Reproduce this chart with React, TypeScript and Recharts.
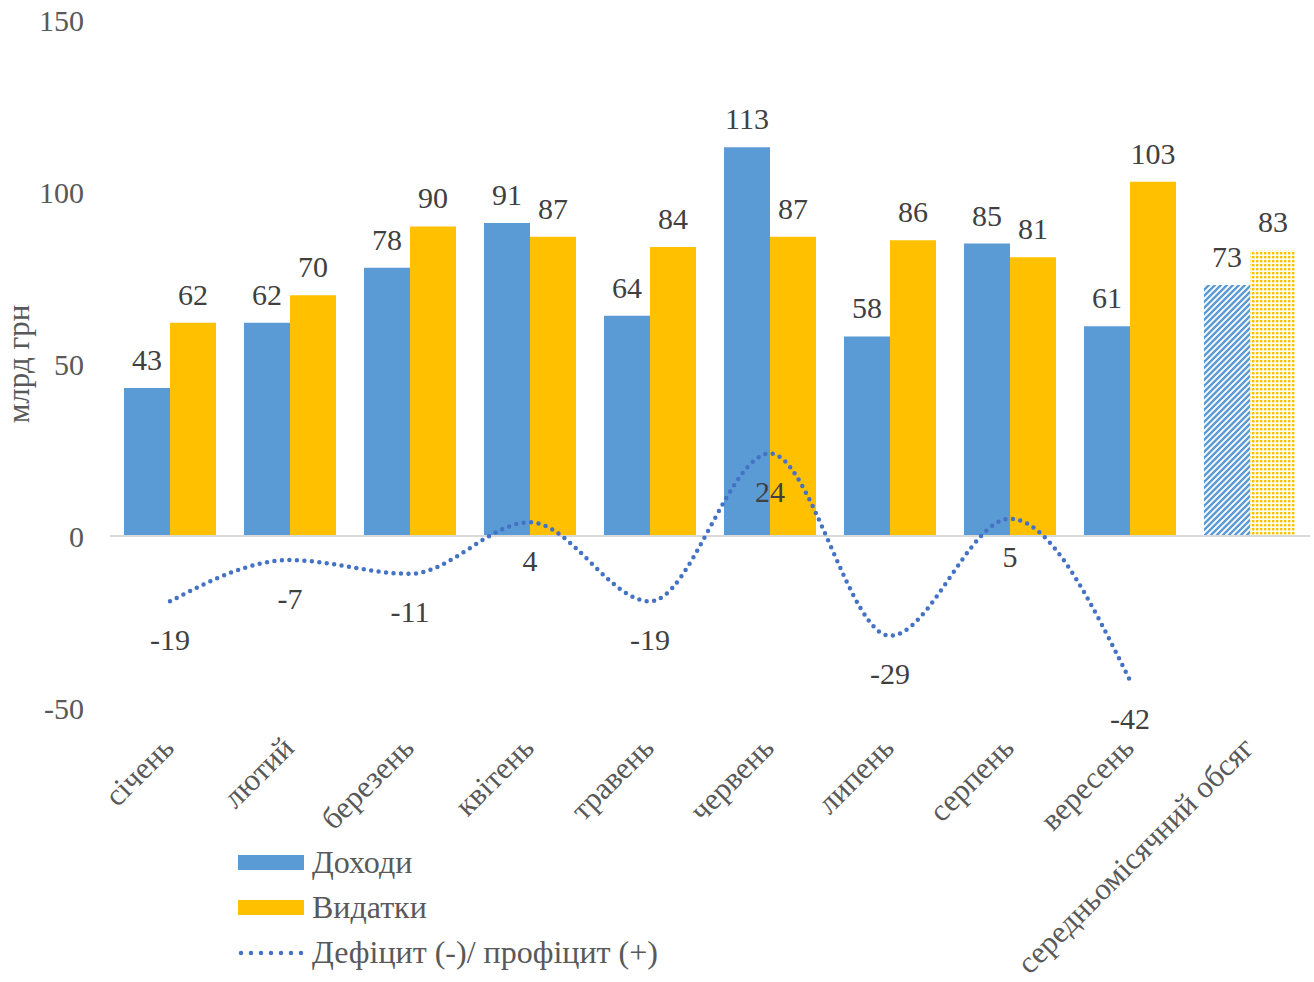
import {
  ComposedChart,
  Bar,
  Line,
  XAxis,
  YAxis,
  Cell,
  LabelList,
  Legend,
  ReferenceLine
} from 'recharts'

const months = [
  'січень',
  'лютий',
  'березень',
  'квітень',
  'травень',
  'червень',
  'липень',
  'серпень',
  'вересень',
  'середньомісячний обсяг'
]
const income = [43, 62, 78, 91, 64, 113, 58, 85, 61, 73]
const expenses = [62, 70, 90, 87, 84, 87, 86, 81, 103, 83]
const balance: (number | null)[] = [-19, -7, -11, 4, -19, 24, -29, 5, -42, null]
const yTicks = [-50, 0, 50, 100, 150]

const data = months.map((m, i) => ({
  month: m,
  income: income[i],
  expenses: expenses[i],
  balance: balance[i]
}))

const FONT = '"Liberation Serif", "Times New Roman", serif'
const BLUE = '#5B9BD5'
const YELLOW = '#FFC000'
const LINE = '#4472C4'

function XTick(props: any) {
  const { x, y, payload } = props
  return (
    <g transform={`translate(${x - 2},${y + 26})`}>
      <text
        transform="rotate(-45)"
        textAnchor="end"
        dy="0.35em"
        fontFamily={FONT}
        fontSize={31}
        fill="#595959"
      >
        {payload.value}
      </text>
    </g>
  )
}

function BalanceLabel(props: any) {
  const { x, y, value } = props
  if (value === null || value === undefined) return null
  return (
    <text
      x={x}
      y={y + 38}
      dy="0.35em"
      textAnchor="middle"
      fontFamily={FONT}
      fontSize={30}
      fill="#404040"
    >
      {value}
    </text>
  )
}

function LegendBox() {
  const row = { display: 'flex', alignItems: 'center', height: 45 }
  const text = { fontFamily: FONT, fontSize: 32, color: '#595959', marginLeft: 8 }
  return (
    <div>
      <div style={row}>
        <div style={{ width: 66, height: 15, background: BLUE }} />
        <span style={text}>Доходи</span>
      </div>
      <div style={row}>
        <div style={{ width: 66, height: 15, background: YELLOW }} />
        <span style={text}>Видатки</span>
      </div>
      <div style={row}>
        <svg width={66} height={10}>
          <line
            x1={3}
            y1={5}
            x2={64}
            y2={5}
            stroke={LINE}
            strokeWidth={4.5}
            strokeLinecap="round"
            strokeDasharray="0 10"
          />
        </svg>
        <span style={text}>Дефіцит (-)/ профіцит (+)</span>
      </div>
    </div>
  )
}

export default function App() {
  const last = months.length - 1
  return (
    <div style={{ position: 'absolute', left: 0, top: 0, background: '#fff' }}>
      <ComposedChart
        width={1314}
        height={982}
        data={data}
        margin={{ top: 20, right: 4, left: 0, bottom: 0 }}
        barSize={46}
        barGap={0}
      >
        <defs>
          <pattern id="blueHatch" patternUnits="userSpaceOnUse" width={6} height={6}>
            <rect width={6} height={6} fill="#fff" />
            <path
              d="M0,6 L6,0 M-1.5,1.5 L1.5,-1.5 M4.5,7.5 L7.5,4.5"
              stroke={BLUE}
              strokeWidth={2.4}
            />
          </pattern>
          <pattern id="yellowDots" patternUnits="userSpaceOnUse" width={4} height={4}>
            <rect width={4} height={4} fill="#fff" />
            <rect x={0} y={0} width={2.4} height={2.4} fill={YELLOW} />
          </pattern>
        </defs>
        <XAxis
          dataKey="month"
          height={274}
          axisLine={false}
          tickLine={false}
          interval={0}
          tick={<XTick />}
        />
        <YAxis
          domain={[-50, 150]}
          ticks={yTicks}
          width={110}
          axisLine={false}
          tickLine={false}
          tickSize={0}
          tickMargin={26}
          tick={{ fontFamily: FONT, fontSize: 30, fill: '#595959' }}
          label={{
            content: (p: any) => {
              const vb = p.viewBox
              const cx = vb.x + 22
              const cy = vb.y + vb.height / 2
              return (
                <text
                  x={cx}
                  y={cy}
                  transform={`rotate(-90 ${cx} ${cy})`}
                  textAnchor="middle"
                  dominantBaseline="middle"
                  fontFamily={FONT}
                  fontSize={31}
                  fill="#595959"
                >
                  млрд грн
                </text>
              )
            }
          }}
        />
        <ReferenceLine y={0} stroke="#D9D9D9" strokeWidth={2} />
        <Bar dataKey="income" name="Доходи" fill={BLUE} isAnimationActive={false}>
          {data.map((d, i) => (
            <Cell key={d.month} fill={i === last ? 'url(#blueHatch)' : BLUE} />
          ))}
          <LabelList
            dataKey="income"
            position="top"
            offset={18}
            fontFamily={FONT}
            fontSize={30}
            fill="#404040"
          />
        </Bar>
        <Bar dataKey="expenses" name="Видатки" fill={YELLOW} isAnimationActive={false}>
          {data.map((d, i) => (
            <Cell key={d.month} fill={i === last ? 'url(#yellowDots)' : YELLOW} />
          ))}
          <LabelList
            dataKey="expenses"
            position="top"
            offset={18}
            fontFamily={FONT}
            fontSize={30}
            fill="#404040"
          />
        </Bar>
        <Line
          dataKey="balance"
          name="Дефіцит (-)/ профіцит (+)"
          type="monotone"
          stroke={LINE}
          strokeWidth={4.5}
          strokeLinecap="round"
          strokeDasharray="0 7.5"
          dot={false}
          activeDot={false}
          connectNulls={false}
          isAnimationActive={false}
        >
          <LabelList dataKey="balance" content={<BalanceLabel />} />
        </Line>
        <Legend
          verticalAlign="middle"
          align="center"
          layout="horizontal"
          wrapperStyle={{ left: 238, top: 840, width: 500 }}
          content={() => <LegendBox />}
        />
      </ComposedChart>
    </div>
  )
}
